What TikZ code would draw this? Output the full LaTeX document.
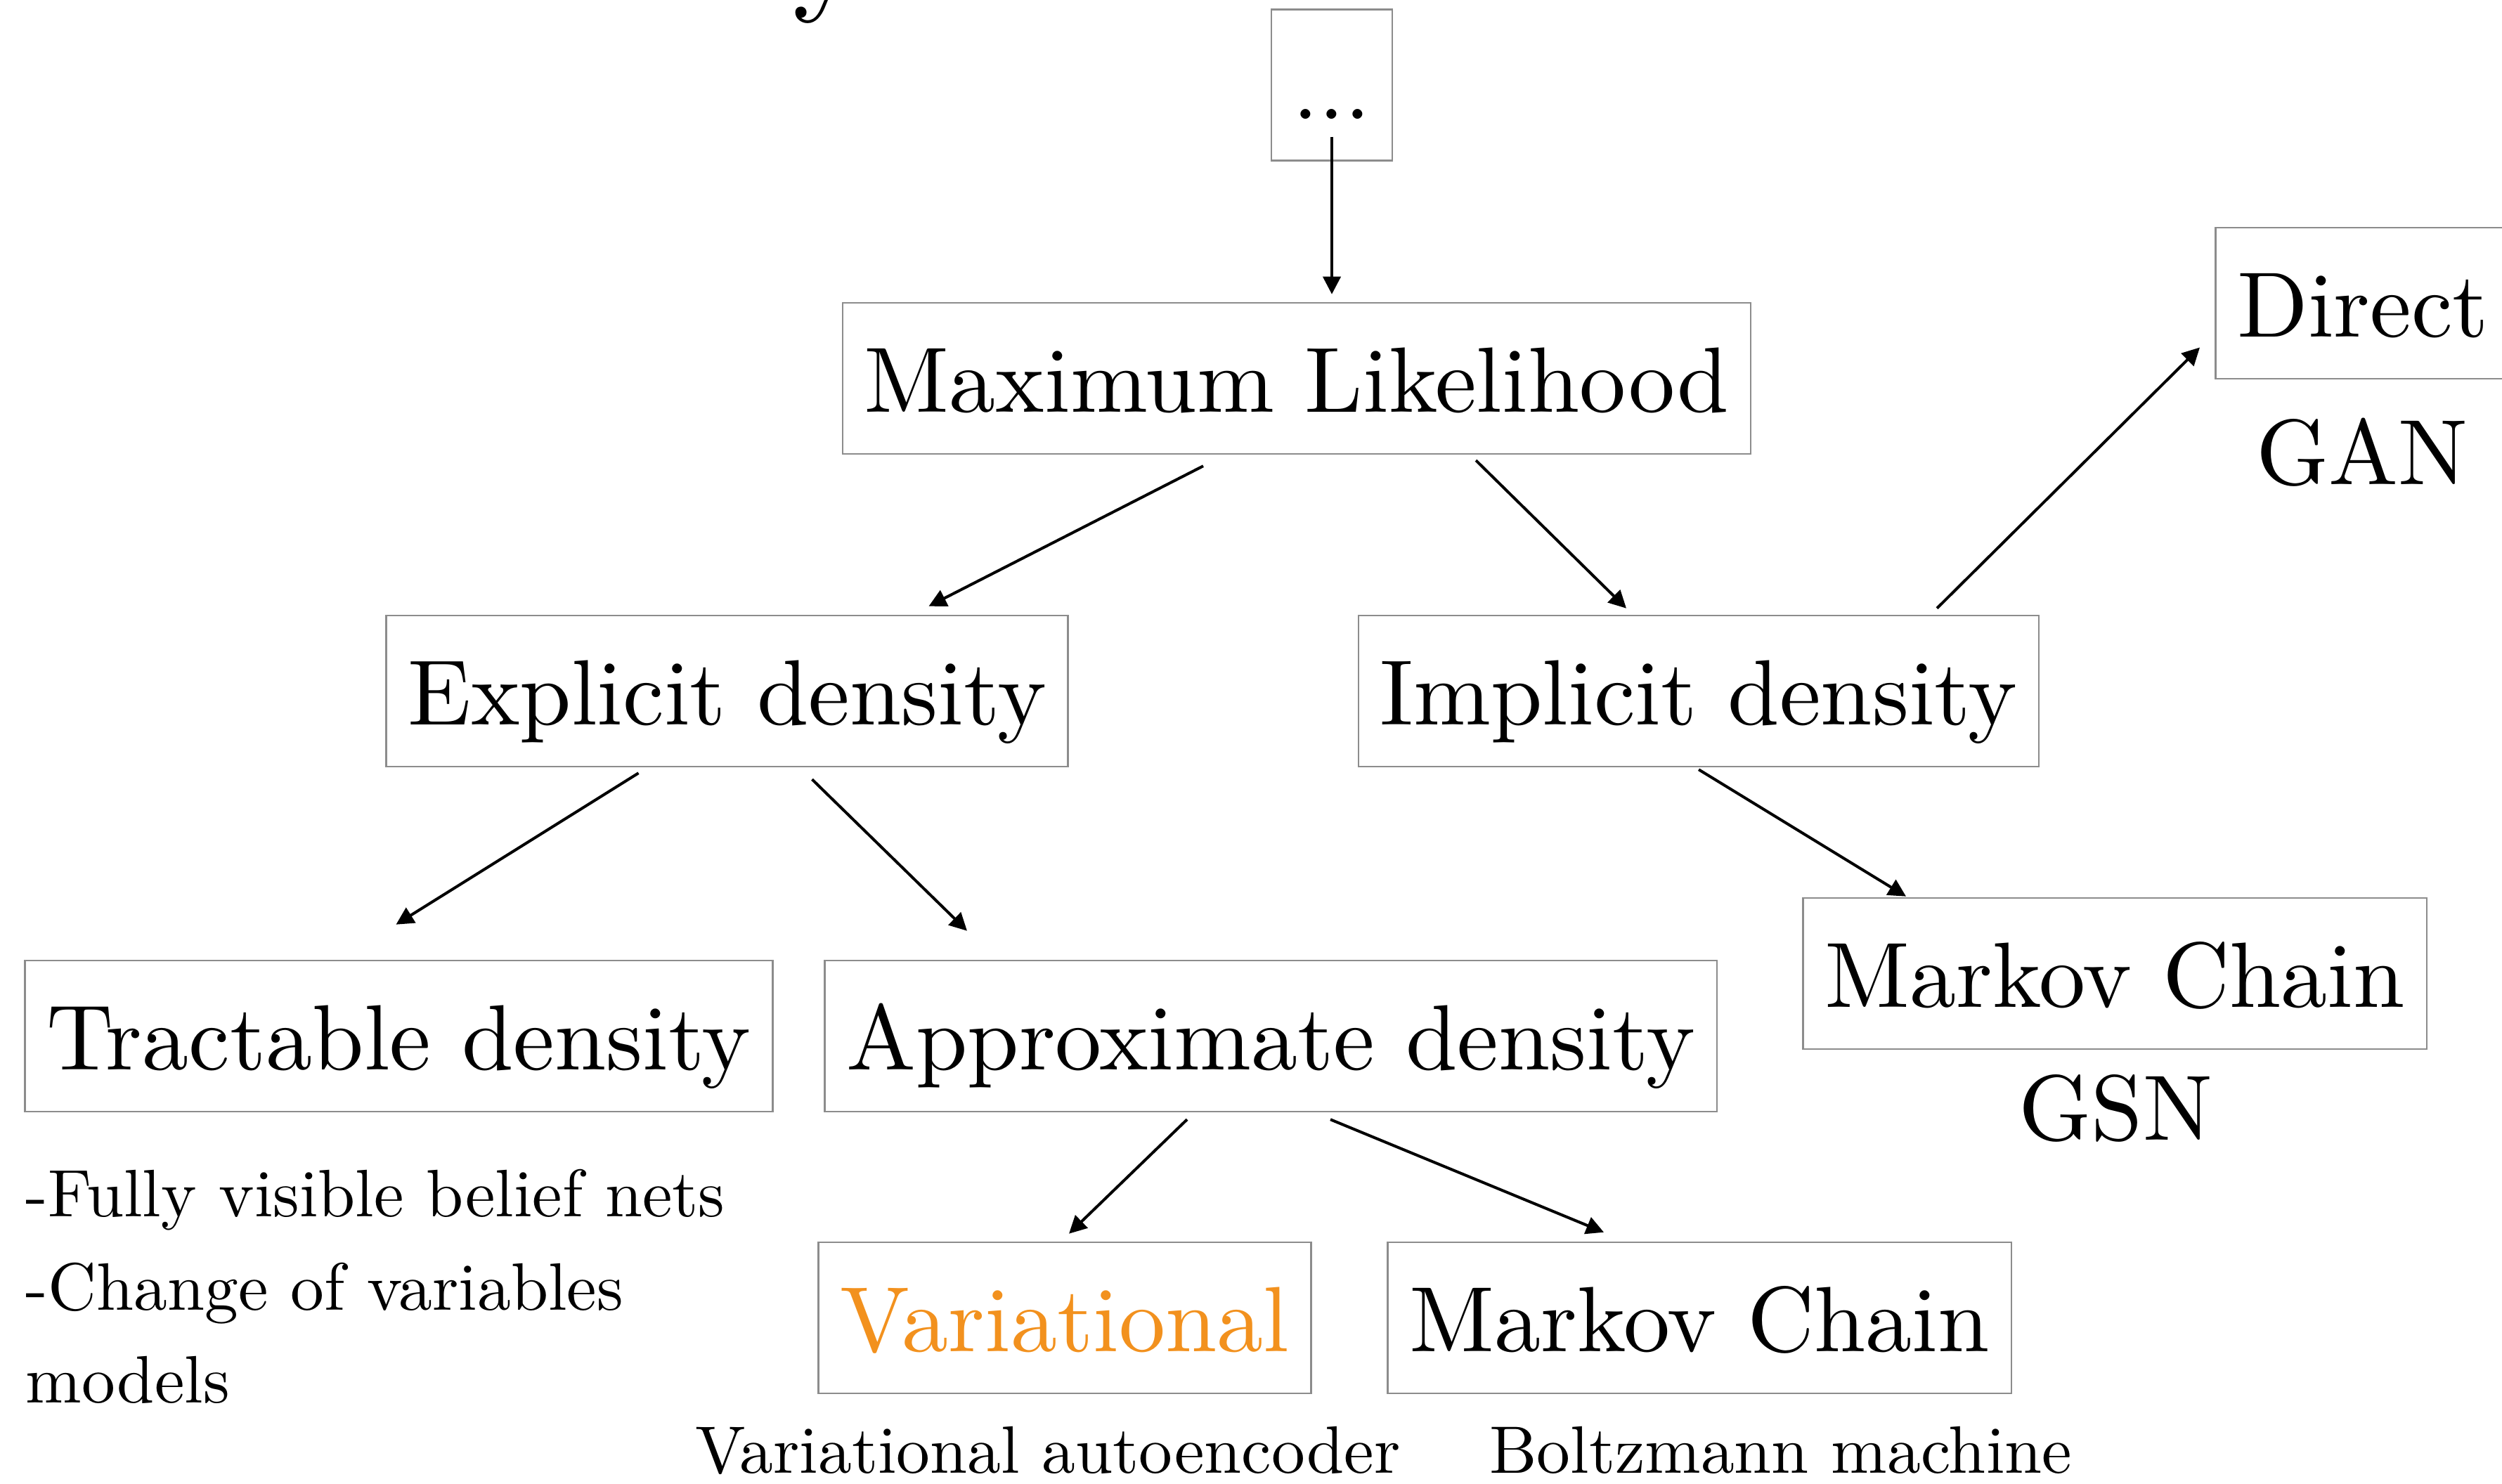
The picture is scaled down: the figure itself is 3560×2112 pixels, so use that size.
\documentclass[tikz,border=0pt]{standalone}
\usepackage{fontspec}
\setmainfont{lmroman10-regular.otf}
\usetikzlibrary{arrows.meta,calc}
\definecolor{boxgray}{RGB}{140,140,140}
\definecolor{varorange}{RGB}{242,145,30}
\begin{document}
\begin{tikzpicture}[x=0.1pt,y=-0.1pt,
  box/.style={draw=boxgray,line width=0.25pt,inner xsep=3.1pt,inner ysep=0pt,
    text height=15.6pt,text depth=5.9pt,font=\fontsize{13.2pt}{15.8pt}\selectfont},
  big/.style={inner sep=0pt,font=\fontsize{13.2pt}{15.8pt}\selectfont},
  small/.style={inner sep=0pt,font=\fontsize{9.55pt}{13.25pt}\selectfont},
  arr/.style={line width=0.4pt,-{Triangle[length=2.5pt,width=2.5pt]}}]
\useasboundingbox (0,0) rectangle (3560,2112);
\node[inner sep=0pt,anchor=base west,font=\fontsize{19pt}{22pt}\selectfont] (title) at (1126,-5) {y};
\node[box] (dots) at (1895,121) {...};
\node[box] (ml) at (1845,538.5) {Maximum Likelihood};
\node[box] (expl) at (1034.5,983.5) {Explicit density};
\node[box] (impl) at (2417,983.5) {Implicit density};
\node[box,anchor=west] (direct) at (3151,431.5) {Direct};
\node[big,anchor=base] (gan) at (3361,690) {GAN};
\node[box] (tract) at (567.5,1474.5) {Tractable density};
\node[box] (approx) at (1808,1474.5) {Approximate density};
\node[box] (mcr) at (3009,1385.5) {Markov Chain};
\node[big,anchor=base] (gsn) at (3010,1623) {GSN};
\node[small,anchor=base west] (l1) at (35,1732) {-Fully visible belief nets};
\node[small,anchor=base west] (l2) at (35,1865) {-Change of variables};
\node[small,anchor=base west] (l3) at (35,1997) {models};
\node[box,text=varorange] (var) at (1515,1875.5) {Variational};
\node[box] (mcb) at (2418,1875.5) {Markov Chain};
\node[small,anchor=base west] (vae) at (987,2097) {Variational autoencoder};
\node[small,anchor=base east] (bm) at (2950,2097) {Boltzmann machine};
\draw[arr] ($(dots.south)+(0,-35)$) -- ($(ml.north)+(50,-11)$);
\draw[arr] ($(ml.south)+(-133,16)$) -- ($(expl.north)+(287,-12)$);
\draw[arr] ($(ml.south)+(255,8)$) -- ($(impl.north)+(-103,-9)$);
\draw[arr] ($(impl.north)+(339,-9)$) -- ($(direct.west)+(-21,63)$);
\draw[arr] ($(expl.south)+(-126,8)$) -- ($(tract.north)+(-4,-50)$);
\draw[arr] ($(expl.south)+(121,17)$) -- ($(approx.north)+(-432,-41)$);
\draw[arr] ($(impl.south)+(0,3)$) -- ($(mcr.north)+(-297,-1)$);
\draw[arr] ($(approx.south)+(-119,10)$) -- ($(var.north)+(6,-11)$);
\draw[arr] ($(approx.south)+(85,10)$) -- ($(mcb.north)+(-136,-13)$);
\end{tikzpicture}
\end{document}
